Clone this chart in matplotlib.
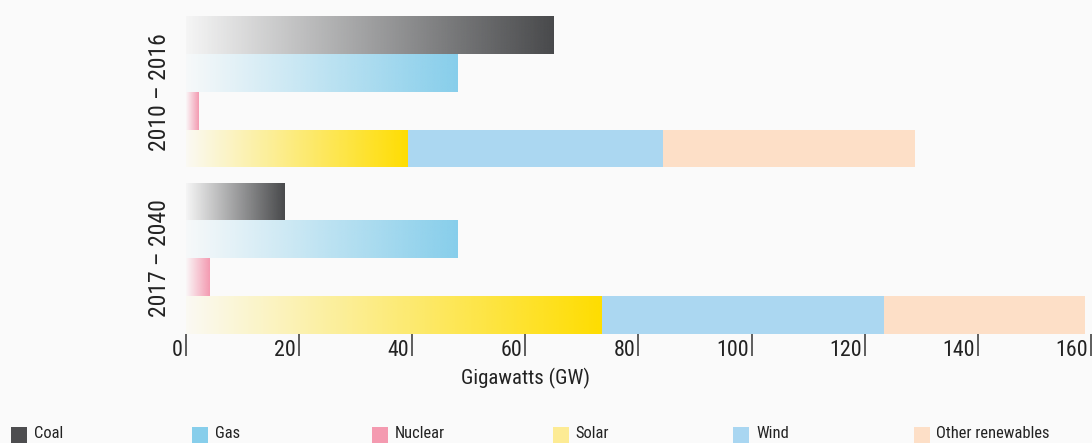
import numpy as np
import matplotlib
matplotlib.use('Agg')
import matplotlib.pyplot as plt
from matplotlib import font_manager as fm, transforms
from matplotlib.colors import to_rgb
from matplotlib.patches import Rectangle

# ---------------- data ----------------
periods = ['2010 – 2016', '2017 – 2040']
coal = [65.0, 17.5]
gas = [48.0, 48.0]
nuclear = [2.2, 4.2]
solar = [39.3, 73.5]
wind = [45.0, 50.0]
other_renewables = [44.6, 35.4]
xticks = [0, 20, 40, 60, 80, 100, 120, 140, 160]
xlabel = 'Gigawatts (GW)'
legend_labels = ['Coal', 'Gas', 'Nuclear', 'Solar', 'Wind', 'Other renewables']

# ---------------- style ----------------
BG = '#fafafa'
TXT = '#222222'
c_coal = '#48494b'
c_gas = '#87ceeb'
c_nuc = '#f49ab1'
c_solar = '#ffdd00'
c_wind = '#abd7f1'
c_other = '#fddfc7'
legend_colors = ['#4d4d4f', '#87ceeb', '#f49ab0', '#fdeb94', '#a9d6f1', '#fddfc7']

# font: prefer a condensed face
fp_path = None
files = [f.fname for f in fm.fontManager.ttflist]
for key in ['RobotoCondensed-Regular', 'RobotoCondensed[', 'RobotoCondensed-VariableFont',
            'LiberationSansNarrow-Regular', 'DejaVuSansCondensed.ttf', 'OpenSans_Condensed-Regular',
            'OpenSansCondensed']:
    hits = [f for f in files if key in f]
    if hits:
        fp_path = hits[0]
        break
if fp_path:
    def FP(size):
        return fm.FontProperties(fname=fp_path, size=size)
    s_group, s_tick, s_xlab, s_leg = 17, 15.8, 15, 11.9
else:
    def FP(size):
        return fm.FontProperties(family='Roboto', size=size)
    s_group, s_tick, s_xlab, s_leg = 14, 13, 12.5, 10

W, H = 1092, 443
fig = plt.figure(figsize=(W / 100, H / 100), dpi=100, facecolor=BG)
ax = fig.add_axes([186 / W, (H - 334) / H, (W - 186) / W, 318 / H])
ax.set_facecolor(BG)

n_rows = 4
gap = 0.4
group_starts = [g * (n_rows + gap) for g in range(len(periods))]
pos_coal = np.array([s + 0 for s in group_starts])
pos_gas = np.array([s + 1 for s in group_starts])
pos_nuc = np.array([s + 2 for s in group_starts])
pos_stack = np.array([s + 3 for s in group_starts])


def gradient_fill(bars, color, a0=0.03):
    rgb = to_rgb(color)
    n = 256
    arr = np.zeros((1, n, 4))
    arr[..., :3] = rgb
    arr[..., 3] = np.linspace(a0, 1.0, n)
    for p in bars:
        x0, y0 = p.get_x(), p.get_y()
        w, h = p.get_width(), p.get_height()
        im = ax.imshow(arr, extent=(x0, x0 + w, y0, y0 + h), aspect='auto',
                       interpolation='bilinear', zorder=2)
        im.set_clip_path(p)


b_coal = ax.barh(pos_coal, coal, height=1.0, color='none', linewidth=0)
b_gas = ax.barh(pos_gas, gas, height=1.0, color='none', linewidth=0)
b_nuc = ax.barh(pos_nuc, nuclear, height=1.0, color='none', linewidth=0)
b_sol = ax.barh(pos_stack, solar, height=1.0, color='none', linewidth=0)
gradient_fill(b_coal, c_coal)
gradient_fill(b_gas, c_gas)
gradient_fill(b_nuc, c_nuc)
gradient_fill(b_sol, c_solar)
ax.barh(pos_stack, wind, left=solar, height=1.0, color=c_wind, linewidth=0, zorder=2)
ax.barh(pos_stack, other_renewables, left=np.array(solar) + np.array(wind), height=1.0,
        color=c_other, linewidth=0, zorder=2)

ax.set_xlim(0, 160.2)
ax.set_ylim(group_starts[-1] + n_rows - 0.5, -0.5)
ax.set_aspect('auto')

for s in ax.spines.values():
    s.set_visible(False)
ax.set_yticks([])
ax.set_xticks(xticks)
ax.tick_params(axis='x', length=22 * 0.72, width=1.2, color='#444444', direction='out',
               labelbottom=False)

# tick labels to the left of tick lines
lab_tr = ax.get_xaxis_transform() + transforms.ScaledTranslation(-3 / 100, -16 / 100, fig.dpi_scale_trans)
for v in xticks:
    ax.text(v, 0, f'{v}', transform=lab_tr, ha='right', va='center', color=TXT,
            fontproperties=FP(s_tick), clip_on=False)

# x label
ax.text(60, 0, xlabel, transform=ax.get_xaxis_transform() + transforms.ScaledTranslation(0, -44 / 100, fig.dpi_scale_trans),
        ha='center', va='center', color=TXT, fontproperties=FP(s_xlab), clip_on=False)

# group labels
gl_tr = transforms.blended_transform_factory(ax.transAxes, ax.transData)
for s, name in zip(group_starts, periods):
    ax.text((159 - 186) / (W - 186), s + (n_rows - 1) / 2, name, transform=gl_tr, rotation=90,
            ha='center', va='center', color=TXT, fontproperties=FP(s_group), clip_on=False)

# legend
for i, (lab, col) in enumerate(zip(legend_labels, legend_colors)):
    x0 = 11 + 180.5 * i
    fig.add_artist(Rectangle((x0 / W, 0), 16 / W, 16 / H, transform=fig.transFigure,
                             facecolor=col, edgecolor='none'))
    fig.text((x0 + 23) / W, (H - 434) / H, lab, ha='left', va='center', color=TXT,
             fontproperties=FP(s_leg))

fig.savefig('out.png', dpi=100, facecolor=BG)
